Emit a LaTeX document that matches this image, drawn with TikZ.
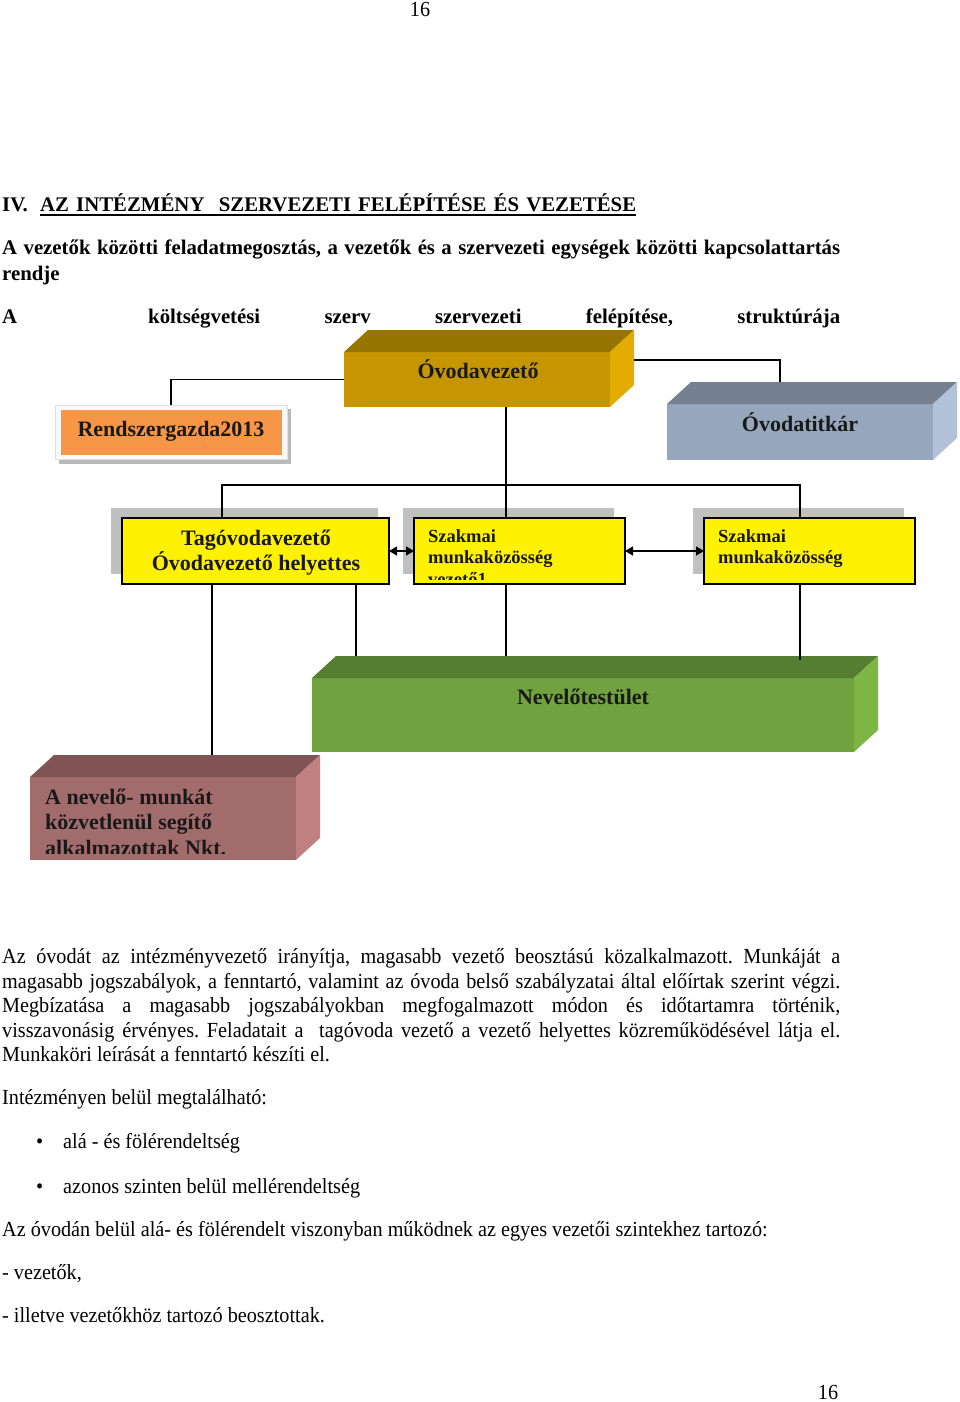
\documentclass[tikz,border=0pt]{standalone}
\usepackage{fontspec}
\setmainfont{Liberation Serif}[FakeStretch=0.94]
\newfontfamily\dgfont{Liberation Serif}
\usetikzlibrary{arrows.meta,calc}
\pgfdeclarelayer{back}
\pgfdeclarelayer{front}
\pgfsetlayers{back,main,front}
\definecolor{ovF}{RGB}{197,150,0}
\definecolor{ovT}{RGB}{152,116,0}
\definecolor{ovS}{RGB}{226,172,0}
\definecolor{otF}{RGB}{150,166,188}
\definecolor{otT}{RGB}{117,129,144}
\definecolor{otS}{RGB}{178,194,216}
\definecolor{nvF}{RGB}{112,162,64}
\definecolor{nvT}{RGB}{86,126,50}
\definecolor{nvS}{RGB}{126,182,70}
\definecolor{nkF}{RGB}{163,108,108}
\definecolor{nkT}{RGB}{128,84,84}
\definecolor{nkS}{RGB}{192,128,128}
\definecolor{rgO}{RGB}{247,150,70}
\definecolor{shd}{RGB}{192,192,192}
\newcommand\cubefaces[3]{%
  \fill[#2] (#1.north west) -- ++(24,-22) -- ($(#1.north east)+(24,-22)$) -- (#1.north east) -- cycle;
  \fill[#3] (#1.north east) -- ++(24,-22) -- ($(#1.south east)+(24,-22)$) -- (#1.south east) -- cycle;}
\tikzset{
 txt/.style={anchor=base west, inner sep=0pt, font=\fontsize{21.5}{24}\selectfont\frenchspacing},
 btxt/.style={anchor=base west, inner sep=0pt, font=\dgfont\bfseries\fontsize{20.8}{24}\selectfont\frenchspacing},
 fbox/.style={anchor=north west, inner sep=0pt, outer sep=0pt},
 lbl/.style={anchor=base, inner sep=0pt, font=\dgfont\bfseries\fontsize{22}{25}\selectfont, text=black!90},
 lbll/.style={lbl, anchor=base west},
 slbl/.style={lbll, font=\dgfont\bfseries\fontsize{18.5}{21}\selectfont},
 conn/.style={draw=black, line width=1.4pt},
 dbl/.style={conn, {Triangle[length=8pt,width=9pt]}-{Triangle[length=8pt,width=9pt]}},
 ybox/.style={fbox, fill=yellow, draw=black, line width=1.4pt},
}
\begin{document}
\begin{tikzpicture}[x=1pt,y=-1pt]
\useasboundingbox (0,0) rectangle (960,1402);

% ---------- header text ----------
\node[txt, anchor=base] (pg1) at (420,17) {16};
\node[btxt] (h1a) at (2,211) {IV.};
\node[btxt] (h1b) at (40,211) {\makebox[596pt][s]{AZ INTÉZMÉNY~ SZERVEZETI FELÉPÍTÉSE ÉS VEZETÉSE}};
\draw[line width=1.3pt] (h1b.base west) ++(0,4) -- ($(h1b.base east)+(0,4)$);
\node[btxt] (h2) at (2,254) {\makebox[838pt][s]{A vezetők közötti feladatmegosztás, a vezetők és a szervezeti egységek közötti kapcsolattartás}};
\node[btxt] (h3) at (2,280) {rendje};
\node[btxt] (h4a) at (2,323) {A};
\node[btxt] (h4b) at (148,323) {\makebox[692pt][s]{költségvetési szerv szervezeti felépítése, struktúrája}};

% ---------- diagram: background shapes ----------
\begin{pgfonlayer}{back}
 \fill[white] (0,0) rectangle (960,1402);
 \fill[gray!55] (59,409) rectangle (291,464);
 \node[fbox, fill=gray!5, draw=gray!25, line width=0.6pt, minimum width=232pt, minimum height=54pt] (rg) at (55,405) {};
 \fill[rgO] (61,410) rectangle (282,455);

 \node[fbox, fill=ovF, minimum width=266pt, minimum height=55pt] (ov) at (344,352) {};
 \cubefaces{ov}{ovT}{ovS}
 \node[fbox, fill=otF, minimum width=266pt, minimum height=56pt] (ot) at (667,404) {};
 \cubefaces{ot}{otT}{otS}
 \node[fbox, fill=nvF, minimum width=542pt, minimum height=74pt] (nv) at (312,678) {};
 \cubefaces{nv}{nvT}{nvS}
 \node[fbox, fill=nkF, minimum width=266pt, minimum height=83pt] (nk) at (30,777) {};
 \cubefaces{nk}{nkT}{nkS}

 \fill[shd] (111,508) rectangle (378,574);
 \fill[shd] (403,508) rectangle (614,574);
 \fill[shd] (693,508) rectangle (904,574);
\end{pgfonlayer}

% ---------- front boxes ----------
\begin{pgfonlayer}{front}
 \node[ybox, minimum width=267pt, minimum height=66pt] (tg) at (122,518) {};
 \node[ybox, minimum width=211pt, minimum height=66pt] (sz1) at (414,518) {};
 \node[ybox, minimum width=211pt, minimum height=66pt] (sz2) at (704,518) {};
 \node[lbl] (tgl1) at (256,545) {Tagóvodavezető};
 \node[lbl] (tgl2) at (256,570) {Óvodavezető helyettes};
 \begin{scope}
  \clip (415,519) rectangle (624,579);
  \node[slbl] (sz1l1) at (428,542) {Szakmai};
  \node[slbl] (sz1l2) at (428,563) {munkaközösség};
  \node[slbl] (sz1l3) at (428,585) {vezető1};
 \end{scope}
 \node[slbl] (sz2l1) at (718,542) {Szakmai};
 \node[slbl] (sz2l2) at (718,563) {munkaközösség};
\end{pgfonlayer}

% ---------- labels on 3D boxes ----------
\node[lbl] (ovl) at (478,378) {Óvodavezető};
\node[lbl] (rgl) at (171,436) {Rendszergazda2013};
\node[anchor=base, inner sep=0pt, font=\fontsize{5}{6}\selectfont, text=black!70] (rgdots) at (205,447) {..};
\node[lbl] (otl) at (800,431) {Óvodatitkár};
\node[lbl] (nvl) at (583,704) {Nevelőtestület};
\begin{scope}
 \clip (30,777) rectangle (296,853);
 \node[lbll] (nkl1) at (45,804) {A nevelő- munkát};
 \node[lbll] (nkl2) at (45,829) {közvetlenül segítő};
 \node[lbll] (nkl3) at (45,855) {alkalmazottak Nkt.};
\end{scope}

% ---------- connectors ----------
\draw[conn] (ov.west) -| (rg.north);
\draw[conn] ($(ov.north east)+(24,8)$) -| ($(ot.north west)+(113,-22)$);
\draw[conn] ($(ov.south west)+(162,0)$) -- ($(nv.north west)+(194,-22)$);
\draw[conn] ($(tg.north west)+(100,0)$) -- ++(0,-33) -| ($(sz2.north west)+(96,0)$);
\draw[conn] ($(tg.south west)+(90,0)$) -- ($(nk.north west)+(182,-22)$);
\draw[conn] ($(tg.south west)+(234,0)$) -- ($(nv.north west)+(44,-22)$);
\draw[conn] ($(sz2.south west)+(96,0)$) -- ($(nv.north west)+(488,-18)$);
\begin{pgfonlayer}{front}
 \draw[dbl] (tg.east) -- (sz1.west);
 \draw[dbl] (sz1.east) -- (sz2.west);
\end{pgfonlayer}

% ---------- body text ----------
\node[txt] (p1) at (2,963) {\makebox[838pt][s]{Az óvodát az intézményvezető irányítja, magasabb vezető beosztású közalkalmazott. Munkáját a}};
\node[txt] (p2) at (2,988) {\makebox[838pt][s]{magasabb jogszabályok, a fenntartó, valamint az óvoda belső szabályzatai által előírtak szerint végzi.}};
\node[txt] (p3) at (2,1012) {\makebox[838pt][s]{Megbízatása a magasabb jogszabályokban megfogalmazott módon és időtartamra történik,}};
\node[txt] (p4) at (2,1037) {\makebox[838pt][s]{visszavonásig érvényes. Feladatait a~ tagóvoda vezető a vezető helyettes közreműködésével látja el.}};
\node[txt] (p5) at (2,1061) {Munkaköri leírását a fenntartó készíti el.};
\node[txt] (q1) at (2,1104) {Intézményen belül megtalálható:};
\node[txt] (b1d) at (36,1148) {•};
\node[txt] (b1) at (63,1148) {alá - és fölérendeltség};
\node[txt] (b2d) at (36,1193) {•};
\node[txt] (b2) at (63,1193) {azonos szinten belül mellérendeltség};
\node[txt] (q2) at (2,1236) {Az óvodán belül alá- és fölérendelt viszonyban működnek az egyes vezetői szintekhez tartozó:};
\node[txt] (q3) at (2,1279) {- vezetők,};
\node[txt] (q4) at (2,1322) {- illetve vezetőkhöz tartozó beosztottak.};
\node[txt, anchor=base] (pg2) at (828,1399) {16};
\end{tikzpicture}
\end{document}
